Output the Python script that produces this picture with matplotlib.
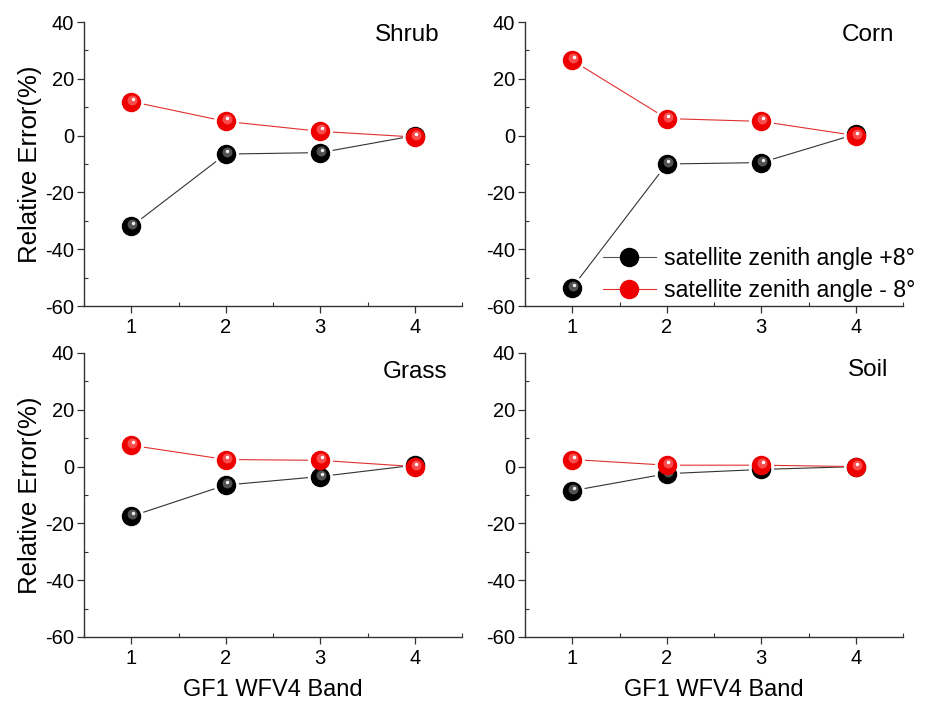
import numpy as np
import matplotlib.pyplot as plt
from matplotlib.ticker import MultipleLocator
from matplotlib.transforms import offset_copy

plt.rcParams['font.family'] = ['Liberation Sans', 'DejaVu Sans']
plt.rcParams['axes.unicode_minus'] = False

bands = [1, 2, 3, 4]
names = ['Shrub', 'Corn', 'Grass', 'Soil']

plus8 = {
    'Shrub': [-32.0, -6.5, -6.0, 0.0],
    'Corn': [-53.5, -10.0, -9.5, 0.5],
    'Grass': [-17.5, -6.5, -3.5, 0.5],
    'Soil': [-8.5, -2.5, -1.0, 0.0],
}
minus8 = {
    'Shrub': [12.0, 5.0, 1.5, -0.5],
    'Corn': [26.5, 6.0, 5.0, 0.0],
    'Grass': [7.5, 2.5, 2.2, 0.0],
    'Soil': [2.5, 0.5, 0.5, 0.0],
}

fig = plt.figure(figsize=(9.31, 7.01), dpi=100)
W, H = 931, 701
boxes = [(84, 22, 462, 306), (525, 22, 903, 306),
         (84, 353, 462, 637), (525, 353, 903, 637)]
# panel name position (right edge, vertical centre) in axes fraction
name_pos = [(0.94, 0.954), (0.976, 0.954), (0.96, 0.933), (0.96, 0.94)]

MS = 13


def sphere(ax, x, y, col, mid, hi):
    ax.plot(x, y, 'o', ms=MS, mfc=col, mec=col, zorder=3)
    tr = offset_copy(ax.transData, fig=fig, x=1, y=2, units='dots')
    ax.plot(x, y, 'o', ms=MS * 0.55, mfc=mid, mec='none', alpha=0.6, transform=tr, zorder=3)
    tr2 = offset_copy(ax.transData, fig=fig, x=1.5, y=3, units='dots')
    ax.plot(x, y, 'o', ms=2.5, mfc=hi, mec='none', transform=tr2, zorder=3)


for i, name in enumerate(names):
    l, t, r, b = boxes[i]
    ax = fig.add_axes([l / W, 1 - b / H, (r - l) / W, (b - t) / H])
    ax.plot(bands, plus8[name], '-', color='#333333', lw=0.8, zorder=1)
    ax.plot(bands, minus8[name], '-', color='#e03030', lw=0.8, zorder=1)
    # white ring to leave a small gap between the lines and the balls
    ax.plot(bands, plus8[name], 'o', ms=MS + 5, mfc='white', mec='none', zorder=2)
    ax.plot(bands, minus8[name], 'o', ms=MS + 5, mfc='white', mec='none', zorder=2)
    sphere(ax, bands, plus8[name], 'black', '#888888', '#eeeeee')
    sphere(ax, bands, minus8[name], '#ee0000', '#ff8080', 'white')
    ax.set_xlim(0.5, 4.5)
    ax.set_ylim(-60, 40)
    ax.set_xticks(bands)
    ax.set_yticks([-60, -40, -20, 0, 20, 40])
    ax.xaxis.set_minor_locator(MultipleLocator(0.5))
    ax.yaxis.set_minor_locator(MultipleLocator(10))
    ax.spines['top'].set_visible(False)
    ax.spines['right'].set_visible(False)
    for s in ['left', 'bottom']:
        ax.spines[s].set_color('#333333')
        ax.spines[s].set_linewidth(1.0)
    ax.tick_params(which='major', direction='out', length=5, width=0.9,
                   labelsize=14.5, colors='#333333', labelcolor='black')
    ax.tick_params(which='minor', direction='in', length=3, width=0.8, colors='#333333')
    ax.tick_params(axis='y', pad=2)
    nx, ny = name_pos[i]
    ax.text(nx, ny, name, transform=ax.transAxes, ha='right', va='center', fontsize=17.5)
    if i % 2 == 0:
        ax.set_ylabel('Relative Error(%)', fontsize=18.5, labelpad=2)
    if i >= 2:
        ax.set_xlabel('GF1 WFV4 Band', fontsize=17, labelpad=8)
    if name == 'Corn':
        h1, = ax.plot([], [], '-o', color='#555555', lw=0.8, ms=MS, mfc='black', mec='black')
        h2, = ax.plot([], [], '-o', color='#e03030', lw=0.8, ms=MS, mfc='#ee0000', mec='#ee0000')
        ax.legend([h1, h2], ['satellite zenith angle +8°', 'satellite zenith angle - 8°'],
                  loc='lower right', bbox_to_anchor=(1.07, -0.035), frameon=False,
                  fontsize=16.7, handlelength=2.3, handletextpad=0.35, labelspacing=0.4,
                  borderaxespad=0.2)

fig.savefig('out.png', dpi=100)
